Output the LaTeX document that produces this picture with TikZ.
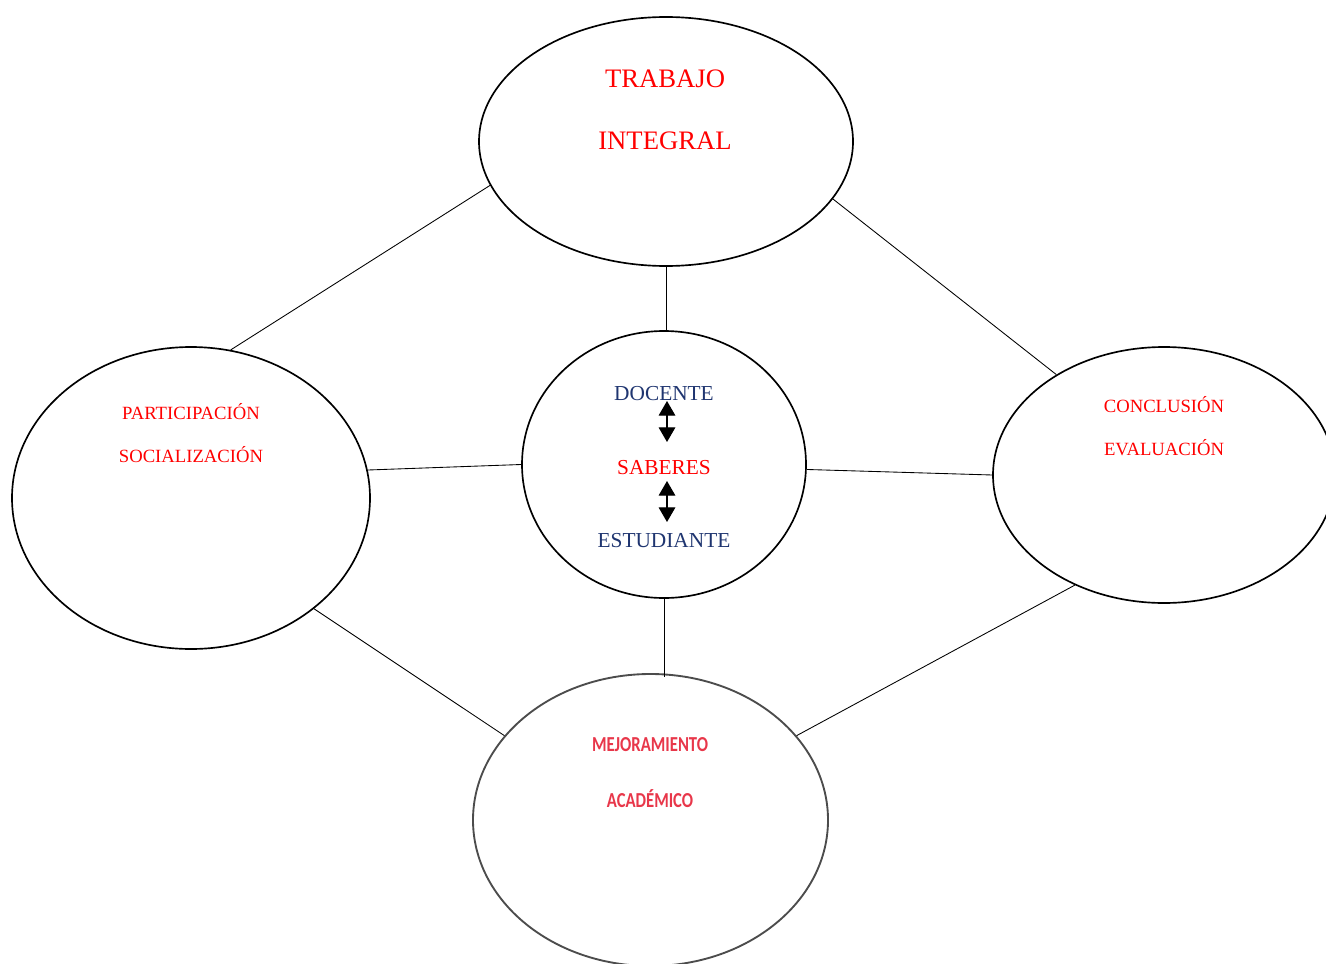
\documentclass[tikz,border=0pt]{standalone}
\usepackage{fontspec}
\setmainfont{Liberation Serif}
\newfontfamily\calib{Carlito}
\usetikzlibrary{shapes.geometric,arrows.meta}
\definecolor{navy}{HTML}{1F3570}
\definecolor{pinkred}{HTML}{E8374A}
\begin{document}
\begin{tikzpicture}[x=0.75pt,y=-0.75pt,
 oval/.style={ellipse,draw=black,line width=1.25pt,inner sep=0pt},
 link/.style={draw=black,line width=0.65pt},
 lbl/.style={anchor=base,inner sep=0pt,text=red},
 big/.style={font=\fontsize{20}{24}\selectfont},
 small/.style={font=\fontsize{14}{17}\selectfont},
 mid/.style={font=\fontsize{16}{19}\selectfont},
 dbl/.style={{Triangle[width=12.5pt,length=11pt]}-{Triangle[width=12.5pt,length=11pt]},line width=0.9pt}]
\useasboundingbox (0,0) rectangle (1326,963);
% ellipses
\node[oval,minimum width=374*0.75pt,minimum height=249*0.75pt] (top) at (666,141.5) {};
\node[oval,minimum width=358*0.75pt,minimum height=302*0.75pt] (left) at (191,498) {};
\node[oval,minimum width=284*0.75pt,minimum height=267*0.75pt] (center) at (664,464.5) {};
\node[oval,minimum width=342*0.75pt,minimum height=256*0.75pt] (right) at (1164,475) {};
\node[oval,draw=black!70,line width=1.4pt,minimum width=355*0.75pt,minimum height=292*0.75pt] (bottom) at (650.5,820) {};
% connectors
\draw[link] (top.194.1) -- (left.75.3);
\draw[link] (top.341.4) -- (right.137.7);
\draw[link] (top.south) -- (top.south |- center.north);
\draw[link] (left.9.2) -- (center.180);
\draw[link] (center.358) -- (right.180);
\draw[link] (center.south) -- ([yshift=-3pt]center.south |- bottom.north);
\draw[link] (left.318.9) -- (bottom.150.7);
\draw[link] (right.231.3) -- (bottom.30);
% texts
\node[lbl,big] (t1) at (665,88) {TRABAJO};
\node[lbl,big] (t2) at (665,150) {INTEGRAL};
\node[lbl,small] (p1) at (191,419) {PARTICIPACIÓN};
\node[lbl,small] (p2) at (191,462) {SOCIALIZACIÓN};
\node[lbl,mid,text=navy] (doc) at (664,400) {DOCENTE};
\node[lbl,mid] (sab) at (664,474) {SABERES};
\node[lbl,mid,text=navy] (est) at (664,547) {ESTUDIANTE};
\node[lbl,small] (c1) at (1164,412) {CONCLUSIÓN};
\node[lbl,small] (c2) at (1164,455) {EVALUACIÓN};
\node[lbl,text=pinkred,font=\calib\bfseries\fontsize{16}{19}\selectfont] (m1) at (650,751) {\scalebox{0.78}[1]{MEJORAMIENTO}};
\node[lbl,text=pinkred,font=\calib\bfseries\fontsize{16}{19}\selectfont] (m2) at (650,807) {\scalebox{0.78}[1]{ACADÉMICO}};
% arrows
\coordinate (a1s) at (667,401);
\coordinate (a1e) at (667,442);
\coordinate (a2s) at (667,481);
\coordinate (a2e) at (667,522);
\draw[dbl] (a1s) -- (a1e);
\draw[dbl] (a2s) -- (a2e);
\end{tikzpicture}
\end{document}
